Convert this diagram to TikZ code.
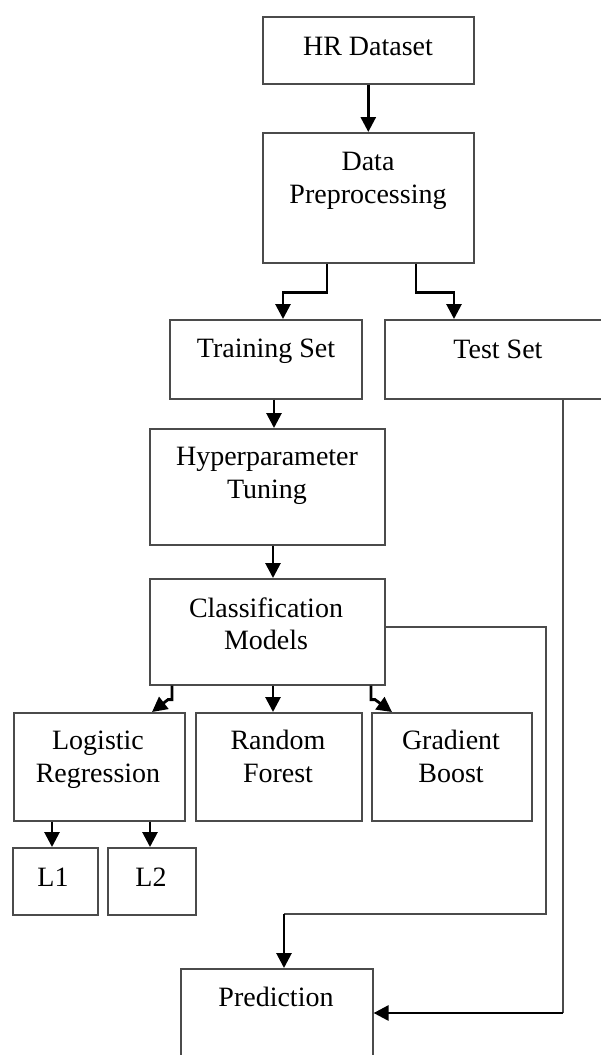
\documentclass[tikz,border=0pt]{standalone}
\usepackage{fontspec}
\setmainfont{Liberation Serif}
\usetikzlibrary{arrows.meta,calc}
\definecolor{boxgray}{RGB}{75,75,75}
\begin{document}
\begin{tikzpicture}[x=1pt,y=-1pt,
  box/.style={draw=boxgray, line width=1.6pt, rectangle, inner sep=0pt, anchor=north west},
  txt/.style={font=\fontsize{28}{33}\selectfont, inner sep=0pt, anchor=base},
  conn/.style={line width=2.8pt, draw=black, -{Triangle[length=15pt,width=15pt]}},
  thinline/.style={line width=1.6pt, draw=boxgray}]
\useasboundingbox (0,0) rectangle (601,1055);

% boxes
\node[box, minimum width=211pt, minimum height=67pt]  (hr)    at (262,16)  {};
\node[box, minimum width=211pt, minimum height=130pt] (dp)    at (262,132) {};
\node[box, minimum width=192pt, minimum height=79pt]  (train) at (169,319) {};
\node[box, minimum width=260pt, minimum height=79pt]  (test)  at (384,319) {};
\node[box, minimum width=235pt, minimum height=116pt] (hyper) at (149,428) {};
\node[box, minimum width=235pt, minimum height=106pt] (cls)   at (149,578) {};
\node[box, minimum width=171pt, minimum height=108pt] (lr)    at (13,712)  {};
\node[box, minimum width=166pt, minimum height=108pt] (rf)    at (195,712) {};
\node[box, minimum width=160pt, minimum height=108pt] (gb)    at (371,712) {};
\node[box, minimum width=85pt,  minimum height=67pt]  (l1)    at (12,847)  {};
\node[box, minimum width=88pt,  minimum height=67pt]  (l2)    at (107,847) {};
\node[box, minimum width=192pt, minimum height=130pt] (pred)  at (180,968) {};

% texts
\node[txt] (thr)  at (368,55)  {HR Dataset};
\node[txt] (tdp1) at (368,170) {Data};
\node[txt] (tdp2) at (368,203) {Preprocessing};
\node[txt] (ttr)  at (266,357) {Training Set};
\node[txt] (tte)  at (498,358) {Test Set};
\node[txt] (thy1) at (267,465) {Hyperparameter};
\node[txt] (thy2) at (267,498) {Tuning};
\node[txt] (tcl1) at (266,617) {Classification};
\node[txt] (tcl2) at (266,649) {Models};
\node[txt] (tlr1) at (98,749)  {Logistic};
\node[txt] (tlr2) at (98,782)  {Regression};
\node[txt] (trf1) at (278,749) {Random};
\node[txt] (trf2) at (278,782) {Forest};
\node[txt] (tgb1) at (451,749) {Gradient};
\node[txt] (tgb2) at (451,782) {Boost};
\node[txt] (tl1)  at (53,886)  {L1};
\node[txt] (tl2)  at (151,886) {L2};
\node[txt] (tpr)  at (276,1006) {Prediction};

% connectors
\draw[conn] (hr.south) -- (dp.north);
\draw[conn] ($(dp.south west)+(65,0)$) -- ++(0,29) -| ($(train.north west)+(114,0)$);
\draw[conn] ($(dp.south west)+(154,0)$) -- ++(0,29) -| ($(test.north west)+(70,0)$);
\draw[conn] ($(train.south west)+(105,0)$) -- ($(hyper.north west)+(125,0)$);
\draw[conn] ($(hyper.south west)+(124,0)$) -- ($(cls.north west)+(124,0)$);
\draw[conn] ($(cls.south west)+(23,0)$) -- ++(0,14) -- ++(-4,0) -- ($(lr.north west)+(139,0)$);
\draw[conn] ($(cls.south west)+(124,0)$) -- ($(rf.north west)+(78,0)$);
\draw[conn] ($(cls.south west)+(222,0)$) -- ++(0,14) -- ++(4,0) -- ($(gb.north west)+(21,0)$);
\draw[conn] ($(lr.south west)+(39,0)$) -- ($(l1.north west)+(40,0)$);
\draw[conn] ($(lr.south west)+(137,0)$) -- ($(l2.north west)+(43,0)$);

\coordinate (cbend) at (546,914);
\coordinate (cdrop) at (284,914);
\draw[thinline] ($(cls.north east)+(0,49)$) -| (cbend) -- (cdrop);
\draw[conn] (cdrop) -- (cdrop |- pred.north);

\coordinate (tbend) at (563,1013);
\draw[thinline] ($(test.south west)+(179,0)$) -- (tbend);
\draw[conn] (tbend) -- (tbend -| pred.east);
\end{tikzpicture}
\end{document}
